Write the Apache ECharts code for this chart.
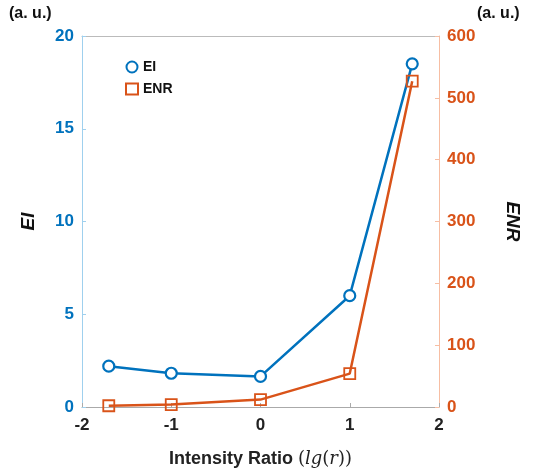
<!DOCTYPE html>
<html>
<head>
<meta charset="utf-8">
<script src="https://cdn.jsdelivr.net/npm/echarts@6/dist/echarts.min.js"></script>
</head>
<body style="margin:0;background:#fff;">
<div id="main" style="width:545px;height:473px;"></div>
<script>
// data
var xVals = [-1.7, -1, 0, 1, 1.7];
var eiVals = [2.2, 1.82, 1.65, 6.0, 18.5];
var enrVals = [2, 4, 12, 54, 527];

var BLUE = '#0072BD';
var ORANGE = '#D95319';

var chart = echarts.init(document.getElementById('main'));
var labelFont = { fontFamily: 'Arial, Liberation Sans', fontWeight: 'bold', fontSize: 17 };

var option = {
    animation: false,
    grid: { left: 82, right: 106, top: 36, bottom: 62 },
    legend: {
        left: 120, top: 55, orient: 'vertical', itemGap: 8,
        itemWidth: 12, itemHeight: 11,
        textStyle: { fontFamily: 'Arial', fontWeight: 'bold', fontSize: 14, color: '#111' },
        data: [
            { name: 'EI', icon: 'circle' },
            { name: 'ENR', icon: 'rect' }
        ]
    },
    xAxis: [{
        type: 'value', min: -2, max: 2, interval: 1,
        axisLine: { onZero: false, lineStyle: { color: '#aaa' } },
        axisTick: { inside: true, length: 4, lineStyle: { color: '#aaa' } },
        splitLine: { show: false },
        axisLabel: Object.assign({ color: '#222', margin: 10 }, labelFont),
        name: '{a|Intensity Ratio }{b|(}{c|lg}{b|(}{c|r}{b|))}',
        nameLocation: 'middle', nameGap: 43,
        nameTextStyle: {
            rich: {
                a: { fontFamily: 'Arial', fontWeight: 'bold', fontSize: 18, color: '#222' },
                b: { fontFamily: 'DejaVu Serif', fontSize: 18, color: '#222' },
                c: { fontFamily: 'DejaVu Serif', fontStyle: 'italic', fontSize: 18, color: '#222' }
            }
        }
    }, {
        type: 'value', position: 'top', min: -2, max: 2,
        axisLine: { show: true, onZero: false, lineStyle: { color: '#bbb' } },
        axisTick: { show: false }, axisLabel: { show: false }, splitLine: { show: false }
    }],
    yAxis: [{
        type: 'value', min: 0, max: 20, interval: 5,
        axisLine: { show: true, onZero: false, lineStyle: { color: '#9fd0ee' } },
        axisTick: { show: true, inside: true, length: 4, lineStyle: { color: '#9fd0ee' } },
        splitLine: { show: false },
        axisLabel: Object.assign({ color: BLUE, margin: 8 }, labelFont),
        name: 'EI', nameLocation: 'middle', nameGap: 44,
        nameTextStyle: { fontFamily: 'Arial', fontWeight: 'bold', fontStyle: 'italic', fontSize: 19, color: '#111' }
    }, {
        type: 'value', min: 0, max: 600, interval: 100, position: 'right',
        axisLine: { show: true, onZero: false, lineStyle: { color: '#f7bea3' } },
        axisTick: { show: true, inside: true, length: 4, lineStyle: { color: '#f7bea3' } },
        splitLine: { show: false },
        axisLabel: Object.assign({ color: ORANGE, margin: 8 }, labelFont),
        name: 'ENR', nameLocation: 'middle', nameGap: 64, nameRotate: -90,
        nameTextStyle: { fontFamily: 'Arial', fontWeight: 'bold', fontStyle: 'italic', fontSize: 19, color: '#111' }
    }],
    graphic: [
        { type: 'text', left: 9, top: 6, style: { text: '(a. u.)', font: 'bold 16px Arial', fill: '#111' } },
        { type: 'text', left: 477, top: 6, style: { text: '(a. u.)', font: 'bold 16px Arial', fill: '#111' } }
    ],
    series: [{
        name: 'EI', type: 'line', yAxisIndex: 0,
        data: xVals.map(function (x, i) { return [x, eiVals[i]]; }),
        symbol: 'circle', symbolSize: 11,
        lineStyle: { color: BLUE, width: 2.5 },
        itemStyle: { color: '#fff', borderColor: BLUE, borderWidth: 2.2 }
    }, {
        name: 'ENR', type: 'line', yAxisIndex: 1,
        data: xVals.map(function (x, i) { return [x, enrVals[i]]; }),
        symbol: 'rect', symbolSize: 11,
        lineStyle: { color: ORANGE, width: 2.5 },
        itemStyle: { color: 'rgba(255,255,255,0)', borderColor: ORANGE, borderWidth: 1.8 }
    }]
};
chart.setOption(option);
</script>
</body>
</html>
